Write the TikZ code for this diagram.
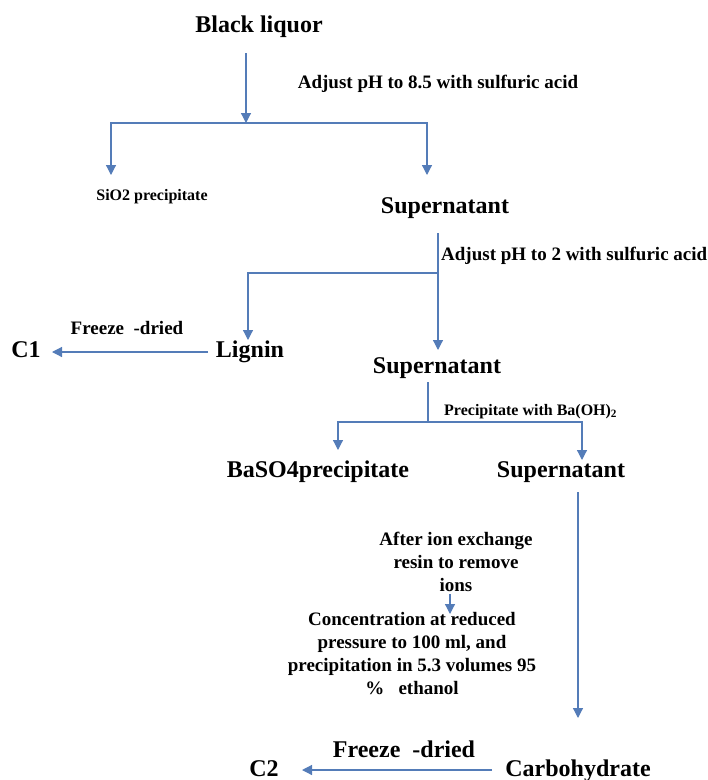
\documentclass[tikz,border=0pt]{standalone}
\usepackage{fontspec}
\setmainfont{Liberation Serif}
\usetikzlibrary{arrows.meta}
\definecolor{flowblue}{RGB}{84,124,184}

\begin{document}
\begin{tikzpicture}[x=1pt,y=-1pt,
		flow/.style={draw=flowblue,line width=1.2pt,-{Triangle[length=10pt,width=10pt]}},
		link/.style={draw=flowblue,line width=1.2pt},
		big/.style={font=\bfseries\fontsize{24}{28}\selectfont,inner sep=0pt,anchor=base},
		mid/.style={font=\bfseries\fontsize{19}{23}\selectfont,inner sep=0pt},
		small/.style={font=\bfseries\fontsize{16}{19}\selectfont,inner sep=0pt,anchor=base}]
			\useasboundingbox (0,0) rectangle (708,780);

			\node[big] (black) at (259,32) {Black liquor};
			\node[mid,anchor=base] (stepa) at (438,88) {Adjust pH to 8.5 with sulfuric acid};
			\node[small] (sio) at (152,200) {SiO2 precipitate};
			\node[big] (supa) at (445,213) {Supernatant};
			\node[mid,anchor=base west] (stepb) at (441,260) {Adjust pH to 2 with sulfuric acid};
			\node[big] (lignin) at (250,357) {Lignin};
			\node[big] (cone) at (26,357) {C1};
			\node[mid,anchor=base] (dryone) at (127,334) {Freeze\ \ -dried};
			\node[big] (supb) at (437,373) {Supernatant};
			\node[small,anchor=base west] (stepc) at (444,415) {Precipitate with Ba(OH)\textsubscript{2}};
			\node[big] (baso) at (318,477) {BaSO4precipitate};
			\node[big] (supc) at (561,477) {Supernatant};
			\node[mid,anchor=north,align=center] (ion) at (456,532) {After ion exchange\\resin to remove\\ions};
			\node[mid,anchor=north,align=center] (conc) at (412,612) {Concentration at reduced\\pressure to 100 ml, and\\precipitation in 5.3 volumes 95\\\%\ \ \ ethanol};
			\node[big] (drytwo) at (404,757) {Freeze\ \ -dried};
			\node[big] (ctwo) at (264,776) {C2};
			\node[big] (carb) at (578,776) {Carbohydrate};

			\coordinate (ja) at (246,123);
			\coordinate (jb) at (438,273);
			\coordinate (jc) at (428,422);

			\draw[flow] (246,53) -- (ja);
			\draw[flow] (ja) -- (111,123) -- (111,175);
			\draw[flow] (ja) -- (427,123) -- (427,175);

			\draw[link] (438,233) -- (jb);
			\draw[flow] (jb) -- (248,273) -- (248,340);
			\draw[flow] (jb) -- (438,350);
			\draw[flow] (208,352) -- (52,352);

			\draw[link] (428,382) -- (jc);
			\draw[flow] (jc) -- (338,422) -- (338,450);
			\draw[flow] (jc) -- (582,422) -- (582,460);

			\draw[flow] (578,492) -- (578,718);
			\draw[flow] (450,594) -- (450,614);
			\draw[flow] (492,770) -- (302,770);
		\end{tikzpicture}
\end{document}
